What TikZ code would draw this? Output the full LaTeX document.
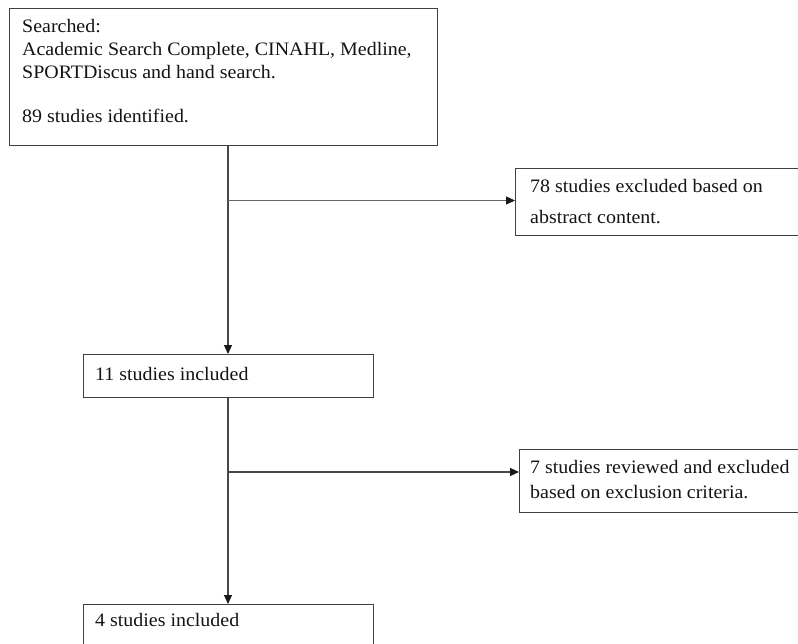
\documentclass[tikz,border=0pt]{standalone}
\usepackage{fontspec}
\setmainfont[FakeStretch=1.05]{Liberation Serif}
\usetikzlibrary{arrows.meta,calc}
\tikzset{
  box/.style={draw=black!75, line width=1.2pt, rectangle, inner sep=0pt, anchor=north west},
  txt/.style={inner sep=0pt, anchor=base west, text=black!92, font=\fontsize{19}{23}\selectfont},
  conn/.style={draw=black!72, line width=1.2pt},
  arr/.style={conn, -{Triangle[length=9pt,width=8pt,color=black!90]}}
}
\begin{document}
\begin{tikzpicture}[x=1pt,y=-1pt]
\useasboundingbox[fill=white] (0,0) rectangle (798,643);
% boxes
\node[box, minimum width=428pt, minimum height=137pt] (b1) at (9,8) {};
\node[box, minimum width=290pt, minimum height=43pt] (b2) at (82.5,354) {};
\node[box, minimum width=284pt, minimum height=67pt] (b3) at (515,168) {};
\node[box, minimum width=280pt, minimum height=63pt] (b4) at (519,449) {};
\node[box, minimum width=290pt, minimum height=43pt] (b5) at (82.5,604) {};
% texts
\node[txt] (t1) at ($(b1.north west)+(13,24)$) {\parbox[t]{410pt}{Searched:\\Academic Search Complete, CINAHL, Medline,\\SPORTDiscus and hand search.\\[21pt]89 studies identified.}};
\node[txt] (t2) at ($(b2.north west)+(12.5,26)$) {11 studies included};
\node[txt] (t3) at ($(b3.north west)+(15,24)$) {\parbox[t]{270pt}{78 studies excluded based on\\[8pt]abstract content.}};
\node[txt] (t4) at ($(b4.north west)+(11,24)$) {\parbox[t]{270pt}{7 studies reviewed and excluded\\[2pt]based on exclusion criteria.}};
\node[txt] (t5) at ($(b5.north west)+(12.5,22)$) {4 studies included};
% connectors
\coordinate (spine) at (228,0);
\coordinate (j1) at (228,200.5);
\coordinate (j2) at (228,472);
\draw[arr] (b1.south -| spine) -- (b2.north -| spine);
\draw[arr, line width=0.8pt, draw=black!60] (j1) -- (j1 -| b3.west);
\draw[arr] (b2.south -| spine) -- (b5.north -| spine);
\draw[arr] (j2) -- (j2 -| b4.west);
\end{tikzpicture}
\end{document}
